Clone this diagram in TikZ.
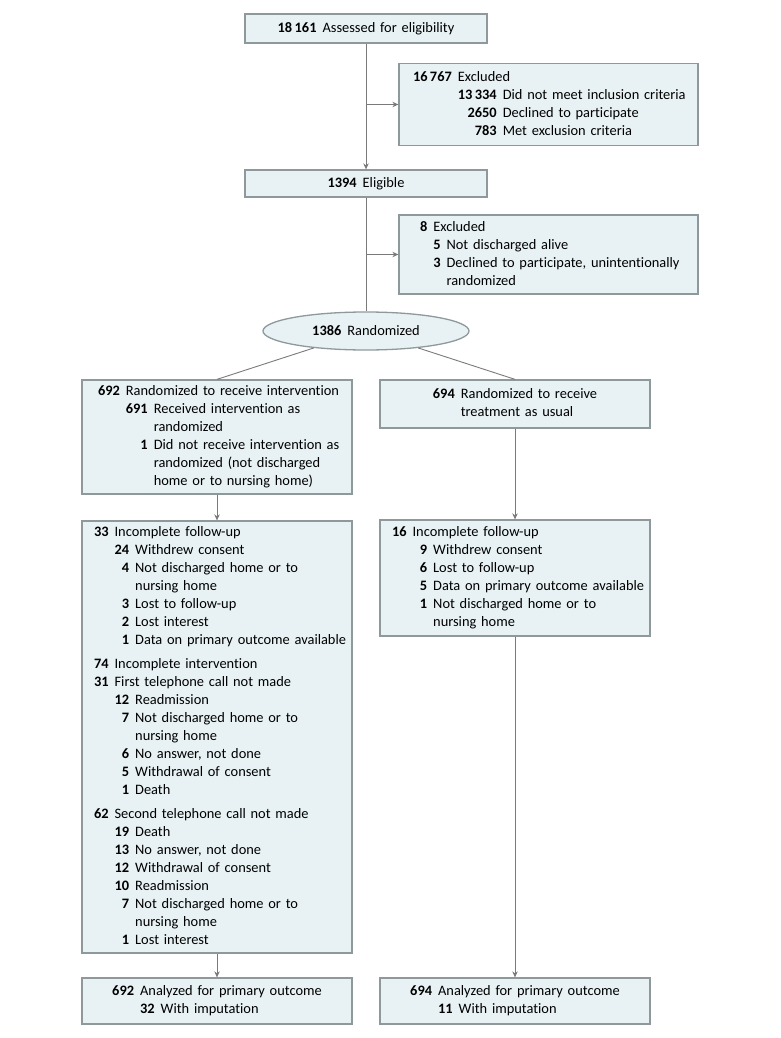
\documentclass[tikz,border=0pt]{standalone}
\usepackage{fontspec}
\setmainfont{Carlito}[Ligatures=NoCommon]
\usetikzlibrary{arrows.meta}
\usetikzlibrary{shapes.geometric}
\usepackage{xcolor}

\definecolor{boxfill}{HTML}{E8F2F4}
\definecolor{boxline}{HTML}{8E999C}
\definecolor{arrline}{HTML}{7A7A7A}

% rows of a box: count, then text
\newcommand{\lvA}[2]{\textbf{#1} & \multicolumn{2}{@{}l@{}}{#2}}
\newcommand{\lvB}[2]{& \textbf{#1} & #2}
\newcommand{\lvC}[1]{& & #1}
\newcommand{\lvD}[1]{& \multicolumn{2}{@{}l@{}}{#1}}
\newenvironment{flowlist}{\begin{tabular}{@{}r@{\hspace{6pt}}r@{\hspace{6pt}}l@{}}}{\end{tabular}}

\tikzset{
  box/.style={draw=boxline, fill=boxfill, line width=1.3pt, inner ysep=0pt,
    font=\fontsize{14.4}{18}\selectfont},
  lbox/.style={box, align=left},
  cbox/.style={box, align=center},
  arr/.style={draw=arrline, line width=0.9pt, -{Stealth[length=6pt,width=5.5pt]}},
  link/.style={draw=arrline, line width=0.9pt}
}

\begin{document}
\begin{tikzpicture}[x=1pt, y=-1pt]
        \useasboundingbox (0,0) rectangle (780,1038);

        % screening
        \node[cbox, text width=230pt, inner xsep=6pt, minimum height=29pt] (assess) at (366,28.5)
          {\textbf{18\,161}\hspace{6pt}Assessed for eligibility};
        \node[lbox, text width=271pt, inner xsep=14pt, minimum height=82pt] (excl1) at (548.5,104.5) {%
          \begin{flowlist}
            \lvA{16\,767}{Excluded}\\
            \lvB{13\,334}{Did not meet inclusion criteria}\\
            \lvB{2650}{Declined to participate}\\
            \lvB{783}{Met exclusion criteria}
          \end{flowlist}};
        \node[cbox, text width=230pt, inner xsep=6pt, minimum height=27pt] (elig) at (366,183.5)
          {\textbf{1394}\hspace{6pt}Eligible};
        \node[lbox, text width=257pt, inner xsep=21pt, minimum height=79pt] (excl2) at (548.5,254.5) {%
          \begin{flowlist}
            \lvA{8}{Excluded}\\
            \lvB{5}{Not discharged alive}\\
            \lvB{3}{Declined to participate, unintentionally}\\
            \lvC{randomized}
          \end{flowlist}};
        \node[draw=boxline, fill=boxfill, line width=1.3pt, ellipse, inner sep=0pt,
          minimum width=206pt, minimum height=38pt, font=\fontsize{14.4}{18}\selectfont] (rand) at (366,331)
          {\textbf{1386}\hspace{6pt}Randomized};

        % allocation
        \node[lbox, text width=238pt, inner xsep=16pt, minimum height=114pt] (intv) at (217,437) {%
          \begin{flowlist}
            \lvA{692}{Randomized to receive intervention}\\
            \lvB{691}{Received intervention as}\\
            \lvC{randomized}\\
            \lvB{1}{Did not receive intervention as}\\
            \lvC{randomized (not discharged}\\
            \lvC{home or to nursing home)}
          \end{flowlist}};
        \node[cbox, text width=246pt, inner xsep=12pt, minimum height=48pt] (tau) at (515,404) {%
          \begin{flowlist}
            \lvA{694}{Randomized to receive}\\
            \lvD{treatment as usual}
          \end{flowlist}};

        % follow-up
        \node[lbox, text width=246pt, inner xsep=12pt, minimum height=432pt] (lfu) at (217,737) {%
          \begin{flowlist}
            \lvA{33}{Incomplete follow-up}\\
            \lvB{24}{Withdrew consent}\\
            \lvB{4}{Not discharged home or to}\\
            \lvC{nursing home}\\
            \lvB{3}{Lost to follow-up}\\
            \lvB{2}{Lost interest}\\
            \lvB{1}{Data on primary outcome available}\\[6pt]
            \lvA{74}{Incomplete intervention}\\
            \lvA{31}{First telephone call not made}\\
            \lvB{12}{Readmission}\\
            \lvB{7}{Not discharged home or to}\\
            \lvC{nursing home}\\
            \lvB{6}{No answer, not done}\\
            \lvB{5}{Withdrawal of consent}\\
            \lvB{1}{Death}\\[6pt]
            \lvA{62}{Second telephone call not made}\\
            \lvB{19}{Death}\\
            \lvB{13}{No answer, not done}\\
            \lvB{12}{Withdrawal of consent}\\
            \lvB{10}{Readmission}\\
            \lvB{7}{Not discharged home or to}\\
            \lvC{nursing home}\\
            \lvB{1}{Lost interest}
          \end{flowlist}};
        \node[lbox, text width=246pt, inner xsep=12pt, minimum height=116pt] (rfu) at (515,578) {%
          \begin{flowlist}
            \lvA{16}{Incomplete follow-up}\\
            \lvB{9}{Withdrew consent}\\
            \lvB{6}{Lost to follow-up}\\
            \lvB{5}{Data on primary outcome available}\\
            \lvB{1}{Not discharged home or to}\\
            & \phantom{\textbf{00}} & nursing home
          \end{flowlist}};

        % analysis
        \node[cbox, text width=246pt, inner xsep=12pt, minimum height=46pt] (lana) at (217,1001) {%
          \begin{flowlist}
            \lvA{692}{Analyzed for primary outcome}\\
            \lvB{32}{With imputation}
          \end{flowlist}};
        \node[cbox, text width=246pt, inner xsep=12pt, minimum height=46pt] (rana) at (515,1001) {%
          \begin{flowlist}
            \lvA{694}{Analyzed for primary outcome}\\
            \lvB{11}{With imputation}
          \end{flowlist}};

        % connectors
        \draw[arr] (assess) -- (elig);
        \draw[arr] (assess.south |- excl1.west) -- (excl1.west);
        \draw[link] (elig) -- (rand);
        \draw[arr] (elig.south |- excl2.west) -- (excl2.west);
        \draw[link] (rand) -- (intv.north);
        \draw[link] (rand) -- (tau.north);
        \draw[arr] (intv) -- (lfu);
        \draw[arr] (lfu) -- (lana);
        \draw[arr] (tau) -- (rfu);
        \draw[arr] (rfu) -- (rana);

      \end{tikzpicture}
\end{document}
